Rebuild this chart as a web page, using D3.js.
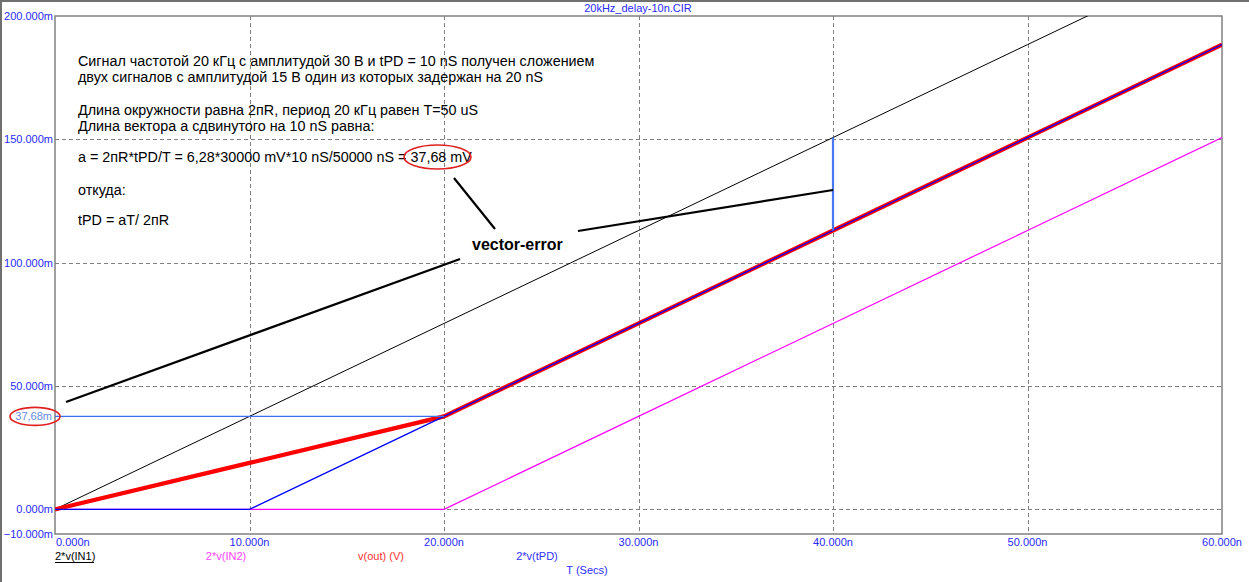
<!DOCTYPE html>
<html><head><meta charset="utf-8">
<script src="https://cdn.jsdelivr.net/npm/d3@7"></script>
<style>body{margin:0;background:#fff}svg{display:block}text{font-family:"Liberation Sans",Arial,sans-serif}</style>
</head><body><svg id="c" width="1249" height="582"></svg>
<script>
// time points (ns)
const times = [0, 10, 20, 30, 40, 50, 60];
// series values (mV)
const in1 = [0, 37.68, 75.36, 113.04, 150.72, 188.4, 226.08];
const in2 = [0, 0, 0, 37.68, 75.36, 113.04, 150.72];
const vout = [0, 18.84, 37.68, 75.36, 113.04, 150.72, 188.4];
const tpd = [0, 0, 37.68, 75.36, 113.04, 150.72, 188.4];
// axis ticks
const xTicks = [0, 10, 20, 30, 40, 50, 60];
const yTicks = [-10, 0, 50, 100, 150, 200];
const yGrid = [0, 50, 100, 150];
const xGrid = [10, 20, 30, 40, 50];
// cursor markers
const markerLevel = [37.68];       // horizontal at 37.68 mV from 0 to 20 ns
const markerLevelSpan = [0, 20];
const markerTime = [40];           // vertical at 40 ns
const markerTimeSpan = [113.04, 150.72];
const legend = ["2*v(IN1)", "2*v(IN2)", "v(out) (V)", "2*v(tPD)"];
const notes = [
  "Сигнал частотой 20 кГц с амплитудой 30 В и tPD = 10 nS получен сложением",
  "двух сигналов с амплитудой 15 В один из которых задержан на 20 nS",
  "Длина окружности равна 2пR, период 20 кГц равен T=50 uS",
  "Длина вектора а сдвинутого на 10 nS равна:",
  "a = 2пR*tPD/T = 6,28*30000 mV*10 nS/50000 nS = 37,68 mV",
  "откуда:",
  "tPD = aT/ 2пR"
];

const svg = d3.select("#c");
const x = d3.scaleLinear().domain([0, 60]).range([55, 1222]);
const y = d3.scaleLinear().domain([-10, 200]).range([534, 16]);

// outer frame
svg.append("line").attr("x1",0).attr("x2",1249).attr("y1",1).attr("y2",1).attr("stroke","#707070").attr("stroke-width",2);
svg.append("line").attr("x1",1).attr("x2",1).attr("y1",0).attr("y2",582).attr("stroke","#707070").attr("stroke-width",2);

// title
svg.append("text").attr("x",638).attr("y",12).attr("text-anchor","middle").attr("font-size",11).attr("fill","#2a2aff").text("20kHz_delay-10n.CIR");

svg.append("defs").append("clipPath").attr("id","clip").append("rect")
  .attr("x",x(0)).attr("y",y(200)).attr("width",x(60)-x(0)).attr("height",y(-10)-y(200));

// grid
const g = svg.append("g");
g.selectAll(".gy").data(yGrid).join("line").attr("x1",x(0)).attr("x2",x(60))
  .attr("y1",d=>Math.round(y(d))+0.5).attr("y2",d=>Math.round(y(d))+0.5)
  .attr("stroke","#808080").attr("stroke-dasharray","4,3");
g.selectAll(".gx").data(xGrid).join("line").attr("y1",y(200)).attr("y2",y(-10))
  .attr("x1",d=>Math.round(x(d))+0.5).attr("x2",d=>Math.round(x(d))+0.5)
  .attr("stroke","#808080").attr("stroke-dasharray","4,3");

// plot frame
svg.append("rect").attr("x",x(0)).attr("y",y(200)).attr("width",x(60)-x(0)).attr("height",y(-10)-y(200))
  .attr("fill","none").attr("stroke","#808080").attr("stroke-width",1.5);

// axis labels
const fmtY = d => d3.format(".3f")(d) + "m";
svg.selectAll(".yl").data(yTicks).join("text").attr("x",53).attr("y",d=>y(d)+4)
  .attr("text-anchor","end").attr("font-size",11).attr("fill","#2a2aff").text(fmtY);
svg.selectAll(".xl").data(xTicks).join("text").attr("x",d=> d===0 ? x(d)+1 : x(d)).attr("y",546)
  .attr("text-anchor",d=> d===0 ? "start" : "middle").attr("font-size",11).attr("fill","#2a2aff")
  .text(d=>d3.format(".3f")(d)+"n");

// traces
const line = d3.line().x(d=>x(d[0])).y(d=>y(d[1]));
const plot = svg.append("g").attr("clip-path","url(#clip)");
const pts = arr => times.map((t,i)=>[t,arr[i]]);
plot.append("path").attr("d",line(pts(in1))).attr("fill","none").attr("stroke","#000").attr("stroke-width",1);
plot.append("path").attr("d",line(pts(in2))).attr("fill","none").attr("stroke","#ff00ff").attr("stroke-width",1.2);
plot.append("path").attr("d",line(pts(vout))).attr("fill","none").attr("stroke","#ff0000").attr("stroke-width",4.2);
plot.append("path").attr("d",line(pts(tpd))).attr("fill","none").attr("stroke","#0000ff").attr("stroke-width",1.3);

// markers
plot.selectAll(".mh").data(markerLevel).join("line").attr("x1",x(markerLevelSpan[0])).attr("x2",x(markerLevelSpan[1]))
  .attr("y1",d=>y(d)).attr("y2",d=>y(d)).attr("stroke","#3f6ef0").attr("stroke-width",1.3);
plot.selectAll(".mv").data(markerTime).join("line").attr("x1",d=>x(d)).attr("x2",d=>x(d))
  .attr("y1",y(markerTimeSpan[0])).attr("y2",y(markerTimeSpan[1])).attr("stroke","#4a78f0").attr("stroke-width",2.2);

// marker label
svg.append("text").attr("x",52).attr("y",y(markerLevel[0])+4).attr("text-anchor","end").attr("font-size",11)
  .attr("fill","#6a8ce0").text("37,68m");
svg.append("ellipse").attr("cx",35).attr("cy",y(markerLevel[0])).attr("rx",25).attr("ry",9)
  .attr("fill","none").attr("stroke","#e02020").attr("stroke-width",1.6);

// legend
const legX = [55, 226, 381, 537];
const legC = ["#000000", "#ff44ff", "#ff3030", "#3030ff"];
const legA = ["start","middle","middle","middle"];
svg.selectAll(".lg").data(legend).join("text").attr("x",(d,i)=>legX[i]).attr("y",560)
  .attr("text-anchor",(d,i)=>legA[i]).attr("font-size",11).attr("fill",(d,i)=>legC[i]).text(d=>d);
svg.append("line").attr("x1",55).attr("x2",94).attr("y1",562.5).attr("y2",562.5).attr("stroke","#000").attr("stroke-width",1);
svg.append("text").attr("x",587).attr("y",574).attr("text-anchor","middle").attr("font-size",11).attr("fill","#3030ff").text("T (Secs)");

// annotation text
const noteY = [66, 82, 115, 131, 162, 195, 225];
svg.selectAll(".nt").data(notes).join("text").attr("x",78).attr("y",(d,i)=>noteY[i])
  .attr("font-size",14.35).attr("fill","#000").text(d=>d);
svg.append("ellipse").attr("cx",437.5).attr("cy",157).attr("rx",33.5).attr("ry",12)
  .attr("fill","none").attr("stroke","#e02020").attr("stroke-width",1.6);

svg.append("text").attr("x",472).attr("y",250).attr("font-size",16).attr("font-weight","bold").attr("fill","#000").text("vector-error");
const pointers = [[454,178,495,229],[578,231,833,190],[460,259,66,402]];
svg.selectAll(".pt").data(pointers).join("line").attr("x1",d=>d[0]).attr("y1",d=>d[1]).attr("x2",d=>d[2]).attr("y2",d=>d[3])
  .attr("stroke","#000").attr("stroke-width",2.2);
</script></body></html>
